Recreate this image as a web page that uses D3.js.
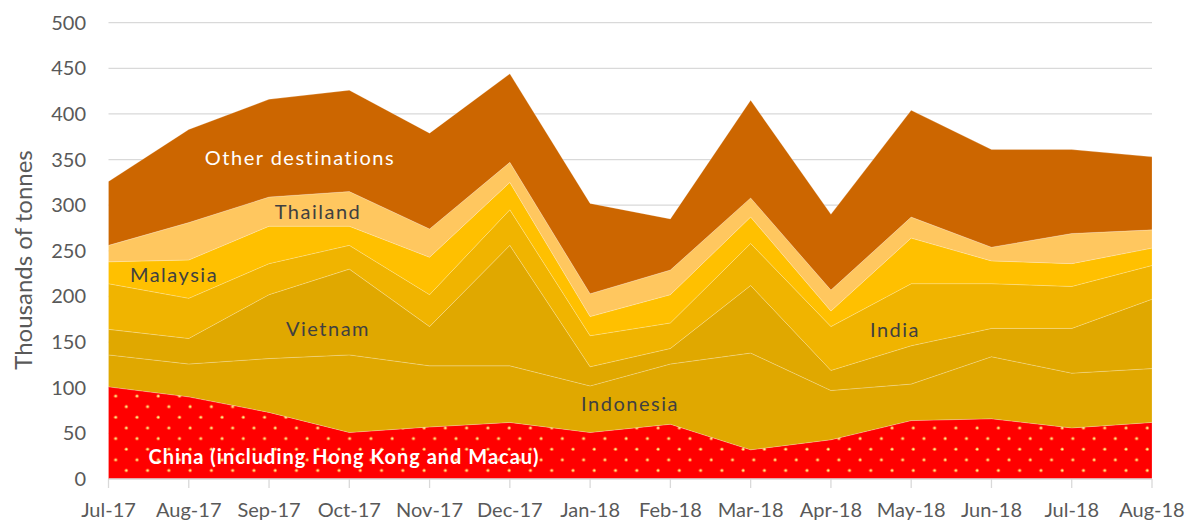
<!DOCTYPE html>
<html>
<head>
<meta charset="utf-8">
<script src="https://cdn.jsdelivr.net/npm/d3@7"></script>
<style>
  html, body { margin: 0; padding: 0; background: #fff; }
  svg { display: block; font-family: Lato, "Open Sans", sans-serif; }
</style>
</head>
<body>
<svg id="chart" width="1201" height="522"></svg>
<script>
// categories
const months = ['Jul-17', 'Aug-17', 'Sep-17', 'Oct-17', 'Nov-17', 'Dec-17', 'Jan-18',
                'Feb-18', 'Mar-18', 'Apr-18', 'May-18', 'Jun-18', 'Jul-18', 'Aug-18'];

// series values, thousands of tonnes (stacked bottom to top)
const china     = [101, 90, 73, 51, 57, 62, 51, 60, 32, 43, 64, 66, 56, 62];
const indonesia = [35, 36, 59, 85, 67, 62, 51, 66, 106, 54, 40, 68, 60, 59];
const vietnam   = [28, 28, 70, 94, 43, 132, 21, 17, 74, 22, 42, 31, 49, 76];
const india     = [50, 44, 34, 26, 35, 39, 34, 28, 46, 48, 68, 49, 46, 37];
const malaysia  = [24, 42, 41, 21, 41, 30, 21, 31, 29, 17, 50, 25, 25, 19];
const thailand  = [18, 41, 32, 38, 31, 22, 25, 27, 21, 23, 23, 15, 33, 20];
const other     = [70, 102, 107, 111, 105, 97, 99, 56, 107, 83, 117, 107, 92, 80];

const yTicks = [0, 50, 100, 150, 200, 250, 300, 350, 400, 450, 500];

const seriesKeys   = ['china', 'indonesia', 'vietnam', 'india', 'malaysia', 'thailand', 'other'];
const seriesValues = [china, indonesia, vietnam, india, malaysia, thailand, other];
const seriesFill   = ['url(#dots)', '#E0A800', '#E0A800', '#F0B400', '#FFC000', '#FFC75F', '#CC6600'];

// in-chart labels
const labels = [
    { text: 'Other destinations', x: 300, y: 165, fill: '#fff' },
    { text: 'Thailand', x: 318, y: 219, fill: '#404040' },
    { text: 'Malaysia', x: 174, y: 282, fill: '#404040' },
    { text: 'Vietnam', x: 328, y: 336, fill: '#404040' },
    { text: 'India', x: 895, y: 337, fill: '#404040' },
    { text: 'Indonesia', x: 630, y: 411, fill: '#404040' },
    { text: 'China (including Hong Kong and Macau)', x: 344, y: 464, fill: '#fff', bold: true }
];

const LEFT   = 108.5;
const RIGHT  = 1152;
const TOP    = 22.7;
const BOTTOM = 479;

const svg = d3.select('#chart');

const rows = months.map((m, i) => {
    const r = { month: m };
    seriesKeys.forEach((k, j) => { r[k] = seriesValues[j][i]; });
    return r;
});

const x = d3.scalePoint().domain(months).range([LEFT, RIGHT]);
const y = d3.scaleLinear().domain([0, 500]).range([BOTTOM, TOP]);

// dotted fill for China
const cell = 21.27;
const pattern = svg.append('defs')
    .append('pattern')
    .attr('id', 'dots')
    .attr('patternUnits', 'userSpaceOnUse')
    .attr('width', cell)
    .attr('height', cell)
    .attr('x', 115.7 - 5)
    .attr('y', 396 - 5);

pattern.append('rect').attr('width', cell).attr('height', cell).attr('fill', '#FF0000');
[[5, 5], [5 + cell / 2, 5 + cell / 2]].forEach(([cx, cy]) => {
    pattern.append('circle').attr('cx', cx).attr('cy', cy).attr('r', 1.7).attr('fill', '#FF9A3A');
    pattern.append('circle').attr('cx', cx).attr('cy', cy).attr('r', 0.9).attr('fill', '#FFF0A8');
});

// gridlines
svg.append('g')
    .selectAll('line')
    .data(yTicks.filter(d => d > 0))
    .join('line')
    .attr('x1', LEFT)
    .attr('x2', RIGHT)
    .attr('y1', d => y(d))
    .attr('y2', d => y(d))
    .attr('stroke', '#D9D9D9')
    .attr('stroke-width', 1.3);

// stacked areas
const stack = d3.stack().keys(seriesKeys);
const layers = stack(rows);

const area = d3.area()
    .x(d => x(d.data.month))
    .y0(d => y(d[0]))
    .y1(d => y(d[1]));

svg.append('g')
    .selectAll('path')
    .data(layers)
    .join('path')
    .attr('d', area)
    .attr('fill', (d, i) => seriesFill[i])
    .attr('stroke', 'rgba(255,255,255,0.3)')
    .attr('stroke-width', 0.7);

// x axis line and ticks
const axis = svg.append('g');
axis.append('line')
    .attr('x1', LEFT)
    .attr('x2', RIGHT)
    .attr('y1', BOTTOM)
    .attr('y2', BOTTOM)
    .attr('stroke', '#D9D9D9')
    .attr('stroke-width', 1.3);

axis.selectAll('.tick')
    .data(months)
    .join('line')
    .attr('class', 'tick')
    .attr('x1', d => x(d))
    .attr('x2', d => x(d))
    .attr('y1', BOTTOM)
    .attr('y2', BOTTOM + 9)
    .attr('stroke', '#D9D9D9')
    .attr('stroke-width', 1.3);

axis.selectAll('.xlabel')
    .data(months)
    .join('text')
    .attr('class', 'xlabel')
    .attr('x', d => x(d))
    .attr('y', 517)
    .attr('text-anchor', 'middle')
    .attr('font-size', 20)
    .attr('fill', '#595959')
    .text(d => d);

// y labels
svg.append('g')
    .selectAll('text')
    .data(yTicks)
    .join('text')
    .attr('x', 86)
    .attr('y', d => y(d))
    .attr('dy', '0.35em')
    .attr('text-anchor', 'end')
    .attr('font-size', 20)
    .attr('fill', '#595959')
    .text(d => d);

// y axis title
svg.append('text')
    .attr('transform', 'translate(32,260) rotate(-90)')
    .attr('text-anchor', 'middle')
    .attr('font-size', 24)
    .attr('fill', '#595959')
    .text('Thousands of tonnes');

// series labels
svg.append('g')
    .selectAll('text')
    .data(labels)
    .join('text')
    .attr('x', d => d.x)
    .attr('y', d => d.y)
    .attr('text-anchor', 'middle')
    .attr('font-size', 20)
    .attr('font-weight', d => d.bold ? 700 : 400)
    .attr('letter-spacing', d => d.bold ? 1 : 1.5)
    .attr('fill', d => d.fill)
    .text(d => d.text);
</script>
</body>
</html>
